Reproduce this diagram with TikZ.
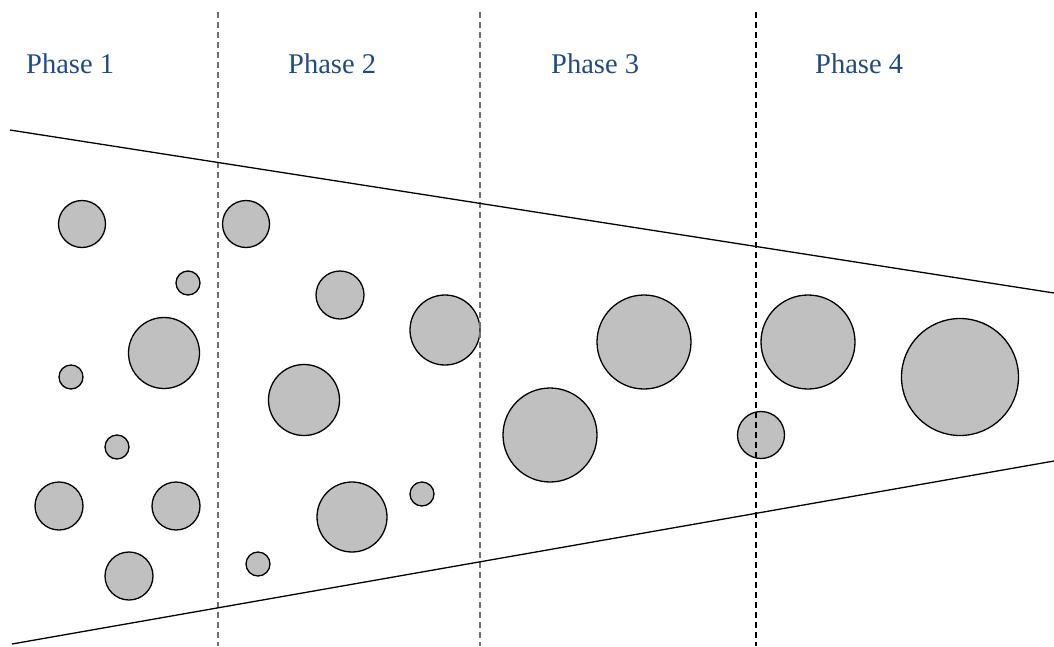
\documentclass[tikz,border=0pt]{standalone}
\usepackage{fontspec}
\setmainfont{Liberation Serif}
\definecolor{Phasecol}{HTML}{1F4A86}
\definecolor{Bubcol}{HTML}{C0C0C0}
\definecolor{Sepcol}{HTML}{707070}
\tikzset{
    bubble/.style={fill=Bubcol, draw=black, line width=1.3pt},
    phaselabel/.style={Phasecol, anchor=base west, inner sep=0pt, font=\fontsize{28.5}{34}\selectfont},
    sepline/.style={line width=1.3pt, dash pattern=on 6pt off 4pt}
}

\begin{document}
\begin{tikzpicture}[x=1pt, y=-1pt]
    \useasboundingbox (0,0) rectangle (1054,646);

    % Phase labels
    \node[phaselabel] (p1) at (26,73) {Phase 1};
    \node[phaselabel] (p2) at (288,73) {Phase 2};
    \node[phaselabel] (p3) at (551,73) {Phase 3};
    \node[phaselabel] (p4) at (815,73) {Phase 4};

    % Phase 1: many small particles
    \draw[bubble] (82,224) circle (23.5);
    \draw[bubble] (188,283) circle (12);
    \draw[bubble] (164,353) circle (35.5);
    \draw[bubble] (71,377) circle (12);
    \draw[bubble] (117,447) circle (12);
    \draw[bubble] (59,506) circle (24);
    \draw[bubble] (176,506) circle (24);
    \draw[bubble] (129,576) circle (24);

    % Phase 2
    \draw[bubble] (246,224) circle (23.5);
    \draw[bubble] (340,295) circle (24);
    \draw[bubble] (445,330) circle (35);
    \draw[bubble] (304,400) circle (35.5);
    \draw[bubble] (422,494) circle (12);
    \draw[bubble] (352,517) circle (35);
    \draw[bubble] (258,564) circle (12);

    % Phase 3
    \draw[bubble] (550,435) circle (47);
    \draw[bubble] (644,342) circle (47);

    % Phase 4: few large particles
    \draw[bubble] (761,435) circle (23.5);
    \draw[bubble] (808,342) circle (47);
    \draw[bubble] (960,377) circle (58.5);

    % Phase boundaries
    \draw[sepline, Sepcol] (218,12) -- (218,646);
    \draw[sepline, Sepcol] (480,12) -- (480,646);
    \draw[sepline, black] (756,12) -- (756,646);

    % Funnel walls
    \draw[line width=1.3pt] (10,130) -- (1054,293);
    \draw[line width=1.3pt] (12,644) -- (1054,461);
\end{tikzpicture}
\end{document}
